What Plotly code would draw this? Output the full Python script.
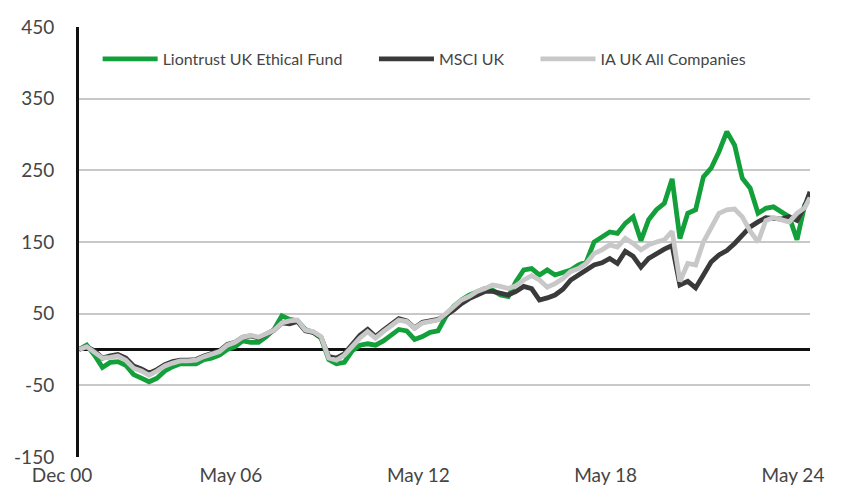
import pandas as pd
import plotly.graph_objects as go

# Quarterly observations from Dec 2000, plus the final May 2024 point
dates = list(pd.date_range("2000-12-01", periods=94, freq="3MS")) + [pd.Timestamp("2024-05-01")]

liontrust = [0, 6, -8, -25, -18, -17, -22, -35, -40, -45, -40, -30, -24, -20, -20, -20, -14, -12, -8, 0, 4, 12, 10, 10, 18,
             28, 47, 42, 40, 28, 24, 16, -14, -20, -18, -2, 6, 8, 6, 12, 20, 28, 26, 14, 18, 24, 26,
             46, 60, 69, 76, 81, 85, 83, 76, 74, 95, 111, 113, 104, 111, 104, 108, 111, 118, 122, 150, 157, 164, 162, 176,
             185, 152, 181, 195, 204, 238, 155, 190, 195, 241, 253, 276, 304, 285, 239, 225, 190, 197, 199, 192, 185, 153, 202,
             212]
msci_uk = [0, 4, -2, -12, -9, -7, -12, -23, -27, -33, -28, -21, -17, -15, -15, -14, -9, -5, -2, 7, 10, 17, 19, 16, 22,
           27, 37, 36, 39, 26, 24, 17, -10, -12, -6, 8, 20, 28, 18, 27, 36, 43, 40, 30, 38, 40, 42,
           48, 55, 64, 71, 76, 81, 81, 78, 76, 81, 88, 85, 69, 72, 76, 84, 97, 104, 111, 118, 121, 127, 120, 137,
           130, 115, 127, 134, 140, 145, 90, 95, 86, 104, 122, 132, 138, 148, 160, 171, 178, 184, 183, 182, 185, 180, 200,
           220]
ia_uk_all = [0, 4, -4, -12, -11, -9, -15, -26, -30, -36, -30, -23, -19, -16, -16, -15, -10, -6, -3, 6, 10, 17, 20, 17, 22,
             27, 37, 40, 41, 27, 25, 18, -12, -15, -8, 4, 16, 25, 16, 25, 34, 41, 39, 30, 37, 39, 41,
             50, 60, 69, 74, 81, 85, 90, 88, 85, 89, 97, 103, 97, 87, 92, 99, 109, 113, 120, 134, 139, 146, 143, 155,
             148, 139, 146, 150, 153, 165, 95, 120, 118, 150, 170, 190, 195, 196, 185, 165, 150, 180, 184, 181, 178, 190, 198,
             212]

series_names = ["Liontrust UK Ethical Fund", "MSCI UK", "IA UK All Companies"]
series_colors = ["#13a03b", "#3a3a3a", "#c8c8c8"]
legend_ids = ["legend", "legend2", "legend3"]
legend_x = [0.0255, 0.4035, 0.6245]

tick_dates = ["2000-12-01", "2006-05-01", "2012-05-01", "2018-05-01", "2024-05-01"]
tick_text = ["Dec 00", "May 06", "May 12", "May 18", "May 24"]
y_ticks = [-150, -50, 50, 150, 250, 350, 450]
y_tick_text = ["-150", "-50", "50", "150", "250", "350", "450"]

FONT = "Lato"
TXT = "#454545"

fig = go.Figure()
for name, vals, col, lg in zip(series_names, [liontrust, msci_uk, ia_uk_all], series_colors, legend_ids):
    fig.add_trace(go.Scatter(x=dates, y=vals, mode="lines", name=name, legend=lg,
                             line=dict(color=col, width=4.8), cliponaxis=False))

legend_common = dict(orientation="h", y=0.965, xanchor="left", yanchor="top",
                     font=dict(family=FONT, size=16, color=TXT), itemwidth=55,
                     bgcolor="rgba(0,0,0,0)")

# The page body adds an 8px margin, so the figure is sized 834x480 to fill the 842x488 view
fig.update_layout(
    width=834, height=480,
    margin=dict(l=71, r=32, t=19, b=31),
    plot_bgcolor="white", paper_bgcolor="white",
    font=dict(family=FONT, color=TXT, size=19),
    showlegend=True,
    legend=dict(x=legend_x[0], **legend_common),
    legend2=dict(x=legend_x[1], **legend_common),
    legend3=dict(x=legend_x[2], **legend_common),
    xaxis=dict(type="date", range=["2000-12-01", "2024-05-01"], automargin=False,
               tickvals=tick_dates, ticktext=tick_text, ticklabelshift=-17,
               ticklabelstandoff=5,
               showgrid=False, zeroline=False, showline=False, ticks="",
               tickfont=dict(size=19, color=TXT)),
    yaxis=dict(range=[-150, 450], tickvals=y_ticks, ticktext=y_tick_text, ticks="",
               automargin=False,
               showgrid=True, gridcolor="#c8c8c8", gridwidth=2,
               zeroline=True, zerolinecolor="#111111", zerolinewidth=2.5,
               showline=True, linecolor="#111111", linewidth=3,
               ticklabelstandoff=18, tickfont=dict(size=19, color=TXT)),
)

fig.write_html("out.html")
